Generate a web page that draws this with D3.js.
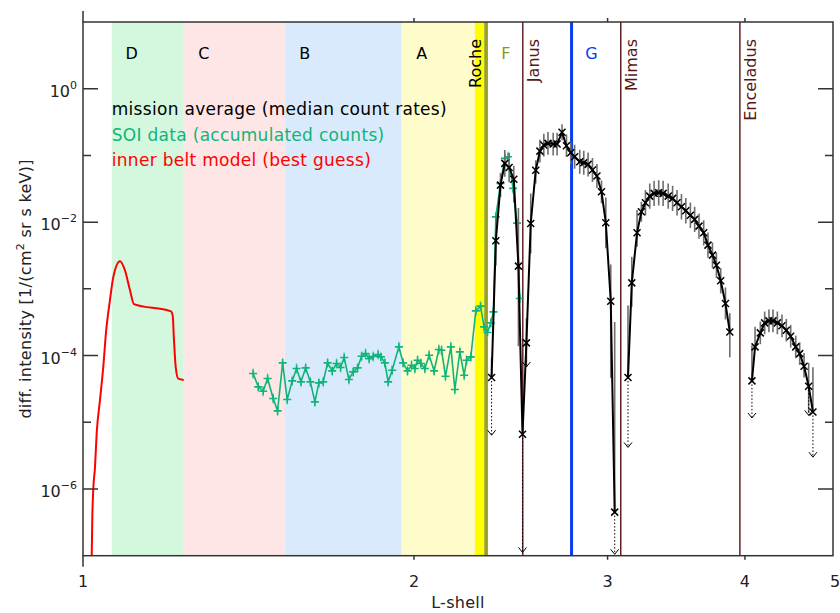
<!DOCTYPE html>
<html>
<head>
<meta charset="utf-8">
<script src="https://cdn.jsdelivr.net/npm/d3@7"></script>
<style>
  body { margin: 0; background: #fff; }
  svg { display: block; font-family: "DejaVu Sans", sans-serif; }
</style>
</head>
<body>
<script>
// ring regions (L-shell bounds)
const ringNames = ["D", "C", "B", "A"];
const ringStart = [1.062, 1.235, 1.526, 1.949];
const ringEnd = [1.235, 1.526, 1.949, 2.272];
const ringColors = ["#d4f8de", "#fde6e5", "#d9eafc", "#fefccb"];
const rocheStart = 2.272, rocheMid = 2.317, rocheEnd = 2.335;
const gRingL = 2.782;
const moonNames = ["Janus", "Mimas", "Enceladus"];
const moonL = [2.512, 3.084, 3.958];

// inner belt model (red)
const modelL = [1.0184, 1.0197, 1.0218, 1.0254, 1.0291, 1.0362, 1.0434, 1.0493, 1.0581, 1.0655, 1.0805,
  1.0918, 1.1033, 1.1126, 1.2023, 1.2066, 1.2099, 1.2142, 1.2208, 1.2348];
const modelI = [1e-7, 3.8e-7, 1e-6, 2.1e-6, 6.9e-6, 2.15e-5, 6.8e-5, 2.2e-4, 6.8e-4, 1.5e-3, 2.6e-3,
  1.9e-3, 9.6e-4, 5.9e-4, 4.6e-4, 4.0e-4, 1.7e-4, 6.8e-5, 4.5e-5, 4.3e-5];

// SOI data (green)
const soiL = [1.428, 1.4435, 1.4584, 1.4719, 1.4893, 1.5031, 1.519, 1.5337, 1.5498, 1.5641, 1.5784, 1.594,
  1.610, 1.6252, 1.6388, 1.6537, 1.669, 1.6853, 1.7007, 1.715, 1.728, 1.7451, 1.761, 1.7771, 1.7922, 1.8071,
  1.8208, 1.8361, 1.8554, 1.866, 1.8817, 1.8947, 1.9107, 1.9378, 1.9551, 1.9731, 1.9898, 2.0037, 2.015, 2.029,
  2.046, 2.0646, 2.0862, 2.1068, 2.1188, 2.1365, 2.1605, 2.1788, 2.2016, 2.2217, 2.2329, 2.2528, 2.2766, 2.2991,
  2.3166, 2.3329, 2.3491, 2.3625, 2.374, 2.3973, 2.419, 2.4358, 2.4614, 2.4822, 2.4962];
const soiI = [5.38e-5, 3.39e-5, 2.92e-5, 4.53e-5, 2.27e-5, 1.48e-5, 7.76e-5, 2.19e-5, 4.17e-5, 6.4e-5, 4.03e-5,
  6.53e-5, 4.03e-5, 2.02e-5, 3.89e-5, 4.03e-5, 7.76e-5, 5.89e-5, 7.6e-5, 6.62e-5, 9.35e-5, 4.38e-5, 5.69e-5,
  6.53e-5, 9.77e-5, 1.07e-4, 8.97e-5, 9.68e-5, 1.04e-4, 9.55e-5, 7.76e-5, 4.03e-5, 6.03e-5, 1.35e-4, 7.76e-5,
  5.89e-5, 7.16e-5, 6.4e-5, 8.51e-5, 7.6e-5, 6.4e-5, 1.01e-4, 5.89e-5, 1.23e-4, 1.2e-4, 4.9e-5, 1.35e-4, 3.1e-5,
  1.135e-4, 5.07e-5, 8.51e-5, 9.55e-5, 4.68e-4, 5.5e-4, 2.69e-4, 2.22e-4, 3.09e-4, 4.52e-4, 1.2e-2, 3.81e-2,
  9.04e-2, 9.55e-2, 3.21e-2, 9.66e-3, 7.18e-4];

// mission average (black), three separate segments; errors in decades
const ringsL = [2.353, 2.374, 2.3973, 2.419, 2.441, 2.465, 2.489, 2.5103, 2.531, 2.554, 2.581, 2.6036, 2.625,
  2.648, 2.677, 2.699, 2.727, 2.7525, 2.777, 2.800, 2.830, 2.854, 2.880, 2.9065, 2.934, 2.962, 2.989, 3.020, 3.045];
const ringsI = [4.7e-5, 5.25e-3, 3.59e-2, 7.6e-2, 6.6e-2, 4.4e-2, 2.19e-3, 6.6e-6, 1.55e-4, 9.57e-3, 6.0e-2,
  0.116, 0.143, 0.1517, 0.148, 0.148, 0.222, 0.1396, 0.1096, 0.0955, 0.0803, 0.0776, 0.0734, 0.0603, 0.049,
  0.0285, 9.77e-3, 6.53e-4, 4.5e-7];
const ringsUp = [0.3, 0.37, 0.18, 0.2, 0.22, 0.2, 0.87, 0, 0.37, 0.45, 0.15, 0.17, 0.17, 0.17, 0.17, 0.17,
  0.12, 0.17, 0.17, 0.18, 0.18, 0.18, 0.18, 0.18, 0.18, 0.17, 0.38, 0.55, 2.85];
const ringsDn = [0, 0.37, 0.18, 0.2, 0.22, 0.35, 1.2, 0, 0.36, 0.45, 0.2, 0.17, 0.17, 0.17, 0.17, 0.17,
  0.12, 0.17, 0.17, 0.18, 0.18, 0.18, 0.18, 0.18, 0.18, 0.17, 0.38, 1.15, 0];

const mimasL = [3.131, 3.156, 3.191, 3.220, 3.2475, 3.277, 3.307, 3.339, 3.370, 3.406, 3.4375, 3.4695, 3.502,
  3.534, 3.568, 3.600, 3.633, 3.669, 3.702, 3.737, 3.768, 3.802, 3.840, 3.875];
const mimasI = [4.69e-5, 1.23e-3, 6.92e-3, 1.43e-2, 1.95e-2, 2.455e-2, 2.7e-2, 2.75e-2, 2.7e-2, 2.455e-2,
  2.27e-2, 1.95e-2, 1.7e-2, 1.48e-2, 1.27e-2, 1.1e-2, 8.71e-3, 6.92e-3, 4.52e-3, 3.2e-3, 2.26e-3, 1.32e-3,
  6.04e-4, 2.26e-4];
const mimasUp = [1.08, 0.39, 0.34, 0.15, 0.19, 0.19, 0.19, 0.19, 0.19, 0.19, 0.19, 0.19, 0.19, 0.19, 0.19,
  0.19, 0.19, 0.19, 0.19, 0.19, 0.19, 0.19, 0.24, 0.28];
const mimasDn = [0, 0.36, 0.21, 0.15, 0.19, 0.19, 0.19, 0.19, 0.19, 0.19, 0.19, 0.19, 0.19, 0.19, 0.19,
  0.19, 0.19, 0.19, 0.19, 0.19, 0.19, 0.19, 0.24, 0.38];

const encL = [4.059, 4.0855, 4.131, 4.1687, 4.206, 4.242, 4.281, 4.3225, 4.362, 4.402, 4.449, 4.486, 4.527,
  4.571, 4.612];
const encI = [4.17e-5, 1.35e-4, 2.19e-4, 3.09e-4, 3.31e-4, 3.31e-4, 3.09e-4, 2.79e-4, 2.4e-4, 1.95e-4, 1.35e-4,
  1.07e-4, 6.92e-5, 3.47e-5, 1.43e-5];
const encUp = [0.53, 0.3, 0.17, 0.17, 0.17, 0.17, 0.17, 0.17, 0.17, 0.17, 0.17, 0.17, 0.2, 0.35, 0.67];
const encDn = [0, 0.05, 0.17, 0.17, 0.17, 0.17, 0.17, 0.17, 0.17, 0.17, 0.17, 0.17, 0.17, 0.4, 0];

// upper-limit arrows
const limL = [2.353, 2.5103, 2.531, 3.045, 3.131, 4.059, 4.571, 4.612];
const limTop = [4.7e-5, 6.6e-6, 1.55e-4, 4.5e-7, 4.69e-5, 4.17e-5, 3.47e-5, 1.43e-5];
const limEnd = [6.4e-6, 1.12e-7, 6.76e-5, 1.05e-7, 4.2e-6, 1.16e-5, 1.27e-5, 3.0e-6];

const legendText = ["mission average (median count rates)", "SOI data (accumulated counts)", "inner belt model (best guess)"];
const legendColors = ["#000", "#10b47a", "#ff0000"];

const yMajor = [1e-6, 1e-4, 1e-2, 1];
const yMinor = [1e-5, 1e-3, 1e-1];
const xTicks = [1, 2, 3, 4];

const W = 840, H = 613;
const x = d3.scaleLog().domain([1, 4.81]).range([83, 833]);
const y = d3.scaleLog().domain([1e-7, 10]).range([555.7, 22]);
const [x0, x1] = x.range(), [yb, yt] = y.range();

const svg = d3.select("body").append("svg").attr("width", W).attr("height", H);
svg.append("defs").append("clipPath").attr("id", "plot")
  .append("rect").attr("x", x0).attr("y", yt).attr("width", x1 - x0).attr("height", yb - yt);
const plot = svg.append("g").attr("clip-path", "url(#plot)");

// ring bands
plot.selectAll("rect.ring").data(ringNames).join("rect")
  .attr("x", (d, i) => x(ringStart[i])).attr("width", (d, i) => x(ringEnd[i]) - x(ringStart[i]))
  .attr("y", yt).attr("height", yb - yt).attr("fill", (d, i) => ringColors[i]);
plot.append("rect").attr("x", x(rocheStart)).attr("width", x(rocheMid) - x(rocheStart))
  .attr("y", yt).attr("height", yb - yt).attr("fill", "#ffff00");
plot.append("rect").attr("x", x(rocheMid)).attr("width", x(rocheEnd) - x(rocheMid))
  .attr("y", yt).attr("height", yb - yt).attr("fill", "#98a21c");

// moons and G ring
plot.selectAll("line.moon").data(moonL).join("line")
  .attr("x1", d => x(d)).attr("x2", d => x(d)).attr("y1", yt).attr("y2", yb)
  .attr("stroke", "#4a0000").attr("stroke-width", 1.3);
plot.append("line").attr("x1", x(gRingL)).attr("x2", x(gRingL)).attr("y1", yt).attr("y2", yb)
  .attr("stroke", "#0a3cf0").attr("stroke-width", 3);

// labels
svg.selectAll("text.ring").data(ringNames).join("text")
  .attr("x", (d, i) => x(ringStart[i]) + 20).attr("y", 59).attr("text-anchor", "middle")
  .attr("font-size", 16).text(d => d);
svg.append("text").attr("x", x(rocheEnd) + 18).attr("y", 59).attr("text-anchor", "middle")
  .attr("font-size", 16).attr("fill", "#8d9a12").text("F");
svg.append("text").attr("x", x(gRingL) + 20).attr("y", 59).attr("text-anchor", "middle")
  .attr("font-size", 16).attr("fill", "#0a3cf0").text("G");
svg.append("text").attr("transform", `translate(${x(rocheStart) + 6},39) rotate(-90)`)
  .attr("text-anchor", "end").attr("font-size", 16).text("Roche");
svg.selectAll("text.moon").data(moonNames).join("text")
  .attr("transform", (d, i) => `translate(${x(moonL[i]) + 16},39) rotate(-90)`)
  .attr("text-anchor", "end").attr("font-size", 16).attr("fill", "#5a1616").text(d => d);

// legend
svg.selectAll("text.legend").data(legendText).join("text")
  .attr("x", x(ringStart[0])).attr("y", (d, i) => 115 + i * 25.5)
  .attr("font-size", 17).attr("letter-spacing", 0.3)
  .attr("fill", (d, i) => legendColors[i]).text(d => d);

const line = d3.line().x(d => x(d[0])).y(d => y(d[1]));

// inner belt model
plot.append("path").datum(d3.zip(modelL, modelI))
  .attr("d", line.curve(d3.curveMonotoneX)).attr("fill", "none")
  .attr("stroke", "#ff0000").attr("stroke-width", 2);
line.curve(d3.curveLinear);

// SOI data
const soi = d3.zip(soiL, soiI);
plot.append("g").selectAll("line").data(soi).join("line")
  .attr("x1", d => x(d[0])).attr("x2", d => x(d[0]))
  .attr("y1", d => y(d[1] * 1.2)).attr("y2", d => y(d[1] / 1.2))
  .attr("stroke", "#7fd6b4").attr("stroke-width", 1.2);
plot.append("path").datum(soi).attr("d", line).attr("fill", "none")
  .attr("stroke", "#10b47a").attr("stroke-width", 1.6);
plot.append("g").selectAll("path").data(soi).join("path")
  .attr("transform", d => `translate(${x(d[0])},${y(d[1])})`)
  .attr("d", "M-4,0H4M0,-4V4").attr("stroke", "#10b47a").attr("stroke-width", 1.6);

// mission average
const segments = [[ringsL, ringsI, ringsUp, ringsDn], [mimasL, mimasI, mimasUp, mimasDn], [encL, encI, encUp, encDn]];
segments.forEach(([L, I, up, dn]) => {
  const pts = L.map((l, i) => ({l, v: I[i], up: up[i], dn: dn[i]}));
  plot.append("g").selectAll("line").data(pts.filter(d => d.up + d.dn > 0)).join("line")
    .attr("x1", d => x(d.l)).attr("x2", d => x(d.l))
    .attr("y1", d => y(d.v * Math.pow(10, d.up))).attr("y2", d => y(d.v / Math.pow(10, d.dn)))
    .attr("stroke", "#6e6e6e").attr("stroke-width", 1.6);
  plot.append("path").datum(pts.map(d => [d.l, d.v])).attr("d", line).attr("fill", "none")
    .attr("stroke", "#000").attr("stroke-width", 2);
  plot.append("g").selectAll("path").data(pts).join("path")
    .attr("transform", d => `translate(${x(d.l)},${y(d.v)})`)
    .attr("d", "M-3.5,-3.5L3.5,3.5M-3.5,3.5L3.5,-3.5").attr("stroke", "#000").attr("stroke-width", 1.5);
});

// upper limits
const lims = limL.map((l, i) => ({l, top: limTop[i], end: limEnd[i]}));
plot.append("g").selectAll("line").data(lims).join("line")
  .attr("x1", d => x(d.l)).attr("x2", d => x(d.l)).attr("y1", d => y(d.top)).attr("y2", d => y(d.end))
  .attr("stroke", "#000").attr("stroke-width", 1).attr("stroke-dasharray", "1.5,2");
plot.append("g").selectAll("path").data(lims).join("path")
  .attr("transform", d => `translate(${x(d.l)},${y(d.end)})`)
  .attr("d", "M-4,-5L0,0L4,-5").attr("fill", "none").attr("stroke", "#000").attr("stroke-width", 1);

// axes
const ax = svg.append("g").attr("stroke", "#333").attr("stroke-width", 1.5).attr("fill", "none");
ax.append("rect").attr("x", x0).attr("y", yt).attr("width", x1 - x0).attr("height", yb - yt);
const yt2 = yMajor.map(v => ({v, s: 15})).concat(yMinor.map(v => ({v, s: 8})));
ax.selectAll("path.yt").data(yt2).join("path")
  .attr("d", d => `M${x0},${y(d.v)}h${d.s}M${x1},${y(d.v)}h${-d.s}`);
ax.selectAll("path.xt").data(xTicks).join("path")
  .attr("d", d => { const s = d === 1 ? 11 : 4; return `M${x(d)},${yb}v${s}M${x(d)},${yt}v${-s}`; });

svg.selectAll("text.xt").data(xTicks).join("text")
  .attr("x", d => x(d)).attr("y", 587).attr("text-anchor", "middle").attr("font-size", 16)
  .attr("fill", "#222").text(d => d);
svg.append("text").attr("x", x1 + 2).attr("y", 587).attr("text-anchor", "middle").attr("font-size", 16)
  .attr("fill", "#222").text("5");

const ylab = svg.selectAll("text.yt").data(yMajor).join("text")
  .attr("x", x0 - 6).attr("y", d => y(d) + 8).attr("text-anchor", "end").attr("font-size", 16).attr("fill", "#222");
ylab.append("tspan").text("10");
ylab.append("tspan").attr("dy", -8).attr("font-size", 11).text(d => Math.round(Math.log10(d)).toString().replace("-", "\u2212"));

svg.append("text").attr("x", (x0 + x1) / 2).attr("y", 608).attr("text-anchor", "middle")
  .attr("font-size", 16).attr("letter-spacing", 0.3).attr("fill", "#222").text("L-shell");
const yl = svg.append("text").attr("transform", `translate(31,${(yt + yb) / 2}) rotate(-90)`)
  .attr("text-anchor", "middle").attr("font-size", 16).attr("letter-spacing", 0.3).attr("fill", "#222");
yl.append("tspan").text("diff. intensity [1/(cm");
yl.append("tspan").attr("dy", -7).attr("font-size", 11).text("2");
yl.append("tspan").attr("dy", 7).text(" sr s keV)]");
</script>
</body>
</html>
